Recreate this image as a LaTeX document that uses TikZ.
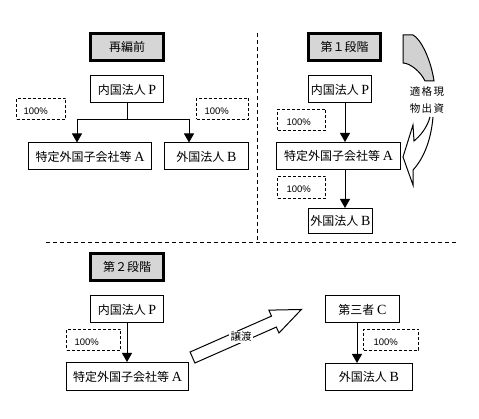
\documentclass[tikz,border=0pt]{standalone}
\usepackage{fontspec}
\setmainfont{Liberation Serif}
\newfontfamily\cjk{Noto Sans CJK JP}
\newfontfamily\gothic{Liberation Sans}
\newcommand\tag[1]{{\fontsize{14}{14}\selectfont\rmfamily #1}}
\usetikzlibrary{arrows.meta}
\begin{document}
\begin{tikzpicture}[x=1pt,y=-1pt,line width=1pt,
  entity/.style={draw,inner sep=0pt,minimum height=27pt,font=\fontsize{12}{14}\selectfont\cjk},
  stage/.style={draw,line width=3pt,fill=black!16,inner sep=0pt,minimum width=73pt,minimum height=27pt,font=\fontsize{12}{14}\selectfont\cjk},
  share/.style={draw,dash pattern=on 3pt off 2pt,inner sep=0pt,minimum height=21pt},
  pct/.style={anchor=west,inner sep=0pt,font=\fontsize{9.5}{11}\selectfont\gothic},
  own/.style={-{Triangle[width=10pt,length=9pt]}},
  divider/.style={dash pattern=on 4pt off 3pt}]
\useasboundingbox (0,0) rectangle (479,419);

\draw[divider] (257,33) -- (257,241);
\draw[divider] (46,243) -- (457,243);

% before
\node[stage] (before) at (127,47) {再編前};
\node[entity,minimum width=73pt] (P1) at (127,89.5) {内国法人 \tag{P}};
\node[entity,minimum width=123pt] (A1) at (90,156.5) {特定外国子会社等 \tag{A}};
\node[entity,minimum width=84pt] (B1) at (206.5,156.5) {外国法人 \tag{B}};
\node[share,minimum width=49pt] (s1) at (41,109) {};
\node[pct] (p1) at ([xshift=7pt,yshift=-2pt]s1.west) {100\%};
\node[share,minimum width=52pt] (s2) at (222.5,109) {};
\node[pct] (p2) at ([xshift=8pt,yshift=-2pt]s2.west) {100\%};
\coordinate (split) at (127,120);
\draw (P1.south) -- (split);
\draw[own] (split) -| ([xshift=-13pt]A1.north);
\draw[own] (split) -| ([xshift=-17.5pt]B1.north);

% stage 1
\node[stage,minimum width=72pt] (first) at (344.5,47) {第１段階};
\node[entity,minimum width=63pt] (P2) at (340,89.5) {内国法人 \tag{P}};
\node[entity,minimum width=124pt] (A2) at (338.5,156) {特定外国子会社等 \tag{A}};
\node[entity,minimum width=64pt,minimum height=25pt] (B2) at (340.5,221) {外国法人 \tag{B}};
\node[share,minimum width=48pt] (s3) at (301.5,120) {};
\node[pct] (p3) at ([xshift=9pt,yshift=-2pt]s3.west) {100\%};
\node[share,minimum width=48pt,minimum height=22pt] (s4) at (301.5,187.5) {};
\node[pct] (p4) at ([xshift=9pt,yshift=-2pt]s4.west) {100\%};
\draw[own] ([xshift=5pt]P2.south) -- ([xshift=5pt]P2.south |- A2.north);
\draw[own] ([xshift=6.5pt]A2.south) -- ([xshift=6.5pt]A2.south |- B2.north);

\draw[fill=black!18] (403,35) -- (413,35) .. controls (421,39) and (431,60) .. (434,81)
  -- (425,81) .. controls (421,72) and (410,63) .. (403,63) -- cycle;
\draw (430,117) .. controls (427,128) and (420,136) .. (414,141) -- (413,125) -- (403,157)
  -- (413,185) -- (413,170) .. controls (424,158) and (431,140) .. (433,117);
\node[align=center,inner sep=1pt,font=\fontsize{10.5}{17}\selectfont\cjk] (inkind) at (427,100)
  {適\kern1.5pt 格\kern1.5pt 現\\物\kern1.5pt 出\kern1.5pt 資};

% stage 2
\node[stage] (second) at (127,267) {第２段階};
\node[entity,minimum width=73pt] (P3) at (127,309.5) {内国法人 \tag{P}};
\node[entity,minimum width=122pt,minimum height=28pt] (A3) at (127.5,376.5) {特定外国子会社等 \tag{A}};
\node[share,minimum width=54pt] (s5) at (93.5,340) {};
\node[pct] (p5) at ([xshift=8pt,yshift=-2pt]s5.west) {100\%};
\draw[own] (P3.south) -- (P3.south |- A3.north);

\node[entity,minimum width=74pt] (C) at (362.5,309.5) {第三者 \tag{C}};
\node[entity,minimum width=87pt] (B3) at (369,377) {外国法人 \tag{B}};
\node[share,minimum width=55pt] (s6) at (391,340) {};
\node[pct] (p6) at ([xshift=10pt,yshift=-2pt]s6.west) {100\%};
\draw[own] ([xshift=-5.5pt]C.south) -- ([xshift=-5.5pt]C.south |- B3.north);

\begin{scope}[shift={(192.5,357.5)},rotate=23.8]
\draw (0,-6) -- (89,-6) -- (89,-12.5) -- (119,0) -- (89,12.5) -- (89,6) -- (0,6) -- cycle;
\end{scope}
\node[fill=white,inner sep=1.5pt,font=\fontsize{10.5}{12}\selectfont\cjk] (transfer) at (241,337) {譲渡};
\end{tikzpicture}
\end{document}
